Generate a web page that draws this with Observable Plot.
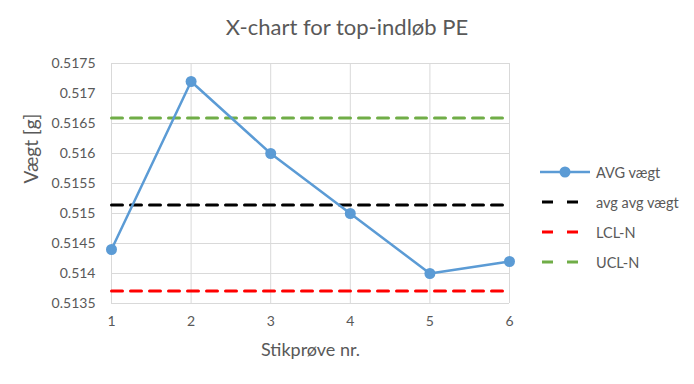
<!DOCTYPE html>
<html><head><meta charset="utf-8">
<script src="https://cdn.jsdelivr.net/npm/d3@7"></script>
<script src="https://cdn.jsdelivr.net/npm/@observablehq/plot@0.6"></script>
<style>
body{margin:0;background:#fff;font-family:Lato,"Open Sans",sans-serif;}
#wrap{position:relative;width:694px;height:384px;}
#title{position:absolute;left:0;width:694px;top:13px;text-align:center;font-size:22px;color:#595959;}
#legend{position:absolute;left:540px;top:157px;font-size:14.5px;color:#595959;}
.row{display:flex;align-items:center;height:30px;}
.row svg{margin-right:6px;}
</style></head>
<body><div id="wrap"><div id="title">X-chart for top-indløb PE</div><div id="legend"></div></div>
<script>
const samples = [1, 2, 3, 4, 5, 6];
const avgWeight = [0.5144, 0.5172, 0.5160, 0.5150, 0.5140, 0.5142];
const avgAvg = 0.51514;
const lcl = 0.51371;
const ucl = 0.51659;
const yTicks = [0.5135, 0.514, 0.5145, 0.515, 0.5155, 0.516, 0.5165, 0.517, 0.5175];
const xLabel = "Stikprøve nr.";
const yLabel = "Vægt [g]";
const seriesNames = ["AVG vægt", "avg avg vægt", "LCL-N", "UCL-N"];
const colors = ["#5B9BD5", "#000000", "#FF0000", "#70AD47"];

const pts = samples.map((s, i) => ({x: s, y: avgWeight[i]}));
const hline = v => samples.map(s => ({x: s, y: v}));
const dash = "11,8";

const chart = Plot.plot({
  width: 694, height: 384,
  marginLeft: 111, marginRight: 185, marginTop: 63, marginBottom: 81,
  style: {fontFamily: "Lato, 'Open Sans', sans-serif", fontSize: "14px", color: "#595959", background: "transparent"},
  x: {domain: [1, 6]},
  y: {domain: [0.5135, 0.5175]},
  marks: [
    Plot.gridX(samples, {stroke: "#d9d9d9", strokeOpacity: 1, strokeWidth: 1}),
    Plot.gridY(yTicks, {stroke: "#d9d9d9", strokeOpacity: 1, strokeWidth: 1}),
    Plot.axisX(samples, {tickSize: 0, tickPadding: 13, label: null, fontSize: 14, tickFormat: d => String(d)}),
    Plot.axisY(yTicks, {tickSize: 0, tickPadding: 16, label: null, fontSize: 14, tickFormat: d => String(+d.toFixed(4))}),
    Plot.text([xLabel], {text: d => d, frameAnchor: "bottom", dy: 52, fontSize: 18, fill: "#595959"}),
    Plot.text([yLabel], {text: d => d, frameAnchor: "left", dx: -80, rotate: -90, fontSize: 19, fill: "#595959"}),
    Plot.line(hline(avgAvg), {x: "x", y: "y", stroke: colors[1], strokeWidth: 3, strokeDasharray: dash}),
    Plot.line(hline(lcl), {x: "x", y: "y", stroke: colors[2], strokeWidth: 3, strokeDasharray: dash}),
    Plot.line(hline(ucl), {x: "x", y: "y", stroke: colors[3], strokeWidth: 3, strokeDasharray: dash}),
    Plot.line(pts, {x: "x", y: "y", stroke: colors[0], strokeWidth: 2.5}),
    Plot.dot(pts, {x: "x", y: "y", r: 5.5, fill: colors[0], stroke: "none"})
  ]
});
chart.style.position = "absolute"; chart.style.left = "0"; chart.style.top = "0";
document.getElementById("wrap").prepend(chart);

const leg = document.getElementById("legend");
seriesNames.forEach((n, i) => {
  const row = document.createElement("div"); row.className = "row";
  const sw = i === 0
    ? `<svg width="50" height="12"><line x1="0" y1="6" x2="50" y2="6" stroke="${colors[0]}" stroke-width="2.5"/><circle cx="25" cy="6" r="5.5" fill="${colors[0]}"/></svg>`
    : `<svg width="50" height="12"><line x1="2" y1="6" x2="50" y2="6" stroke="${colors[i]}" stroke-width="3" stroke-dasharray="11,14"/></svg>`;
  row.innerHTML = sw + `<span>${n}</span>`;
  leg.appendChild(row);
});
</script></body></html>
